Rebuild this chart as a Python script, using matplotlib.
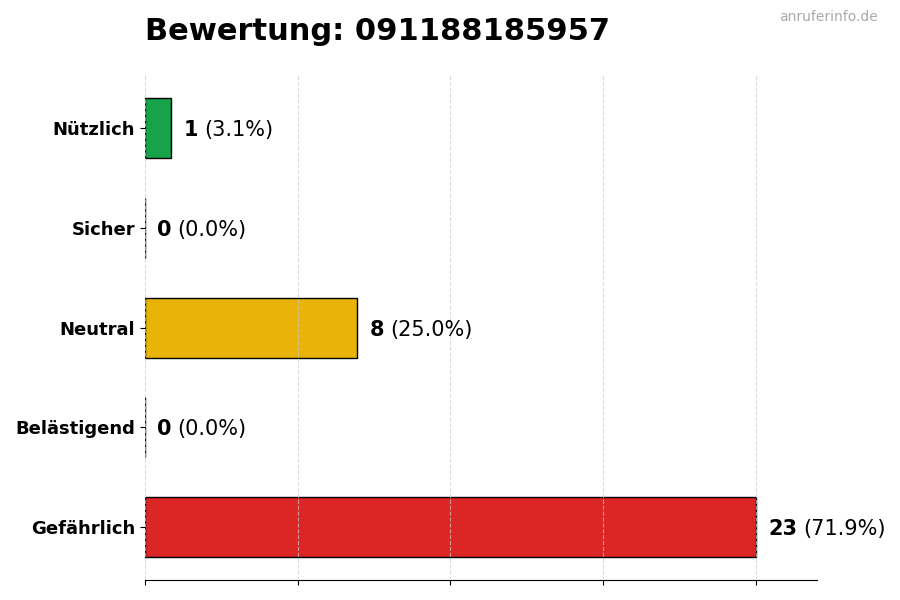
import matplotlib
matplotlib.use("Agg")
import matplotlib.pyplot as plt
import numpy as np

categories = ["Nützlich", "Sicher", "Neutral", "Belästigend", "Gefährlich"]
counts = [1, 0, 8, 0, 23]
colors = ["#16a34a", "#9ca3af", "#eab308", "#f97316", "#dc2626"]
number = "091188185957"

total = sum(counts)
ypos = np.arange(len(categories))

fig = plt.figure(figsize=(9, 6), dpi=100)
ax = fig.add_axes([0.161, 0.033, 0.747, 0.842])

ax.barh(ypos, counts, height=0.6, color=colors, edgecolor="black", linewidth=1, zorder=2)
ax.invert_yaxis()
ax.set_yticks(ypos)
ax.set_yticklabels(categories, fontsize=13, fontweight="bold")

mx = max(counts)
ax.set_xlim(0, mx * 1.1)
ax.set_xticks(np.linspace(0, mx, 5))
ax.set_xticklabels([])
ax.grid(axis="x", linestyle="--", color="#cccccc", alpha=0.7, zorder=3)
ax.set_axisbelow(False)

for s in ["top", "right", "left"]:
    ax.spines[s].set_visible(False)

for y, c in zip(ypos, counts):
    pct = c / total * 100
    t = ax.annotate(str(c), xy=(c, y), xytext=(9, 0), textcoords="offset points",
                    va="center_baseline", ha="left", fontsize=15, fontweight="bold")
    ax.annotate("(%.1f%%)" % pct, xy=(1, 0.5), xycoords=t, xytext=(4, 0),
                textcoords="offset points", va="center", ha="left", fontsize=15)

fig.text(0.161, 0.948, "Bewertung: " + number, fontsize=22, fontweight="bold",
         ha="left", va="center")
fig.text(0.975, 0.972, "anruferinfo.de", fontsize=10, color="#aaaaaa",
         ha="right", va="center")

fig.savefig("out.png", dpi=100)
